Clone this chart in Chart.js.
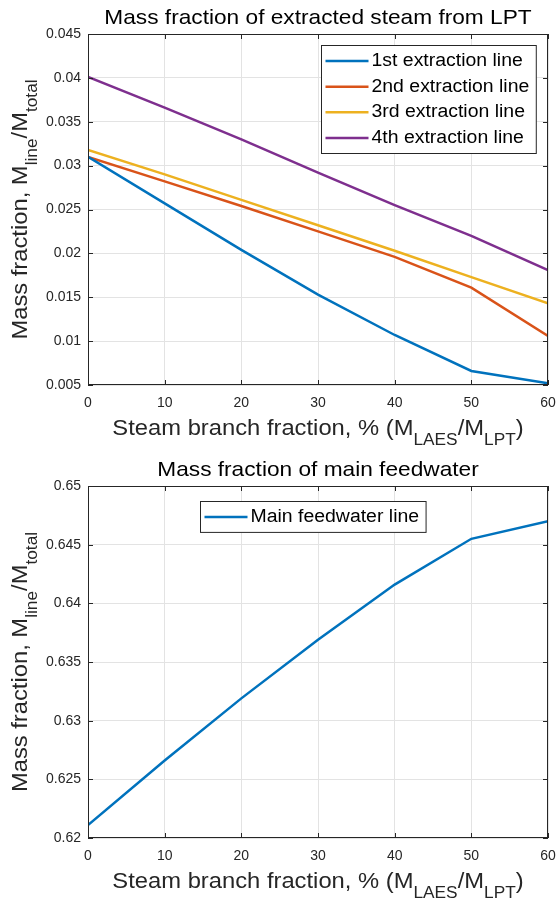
<!DOCTYPE html>
<html>
<head>
<meta charset="utf-8">
<script src="https://cdn.jsdelivr.net/npm/chart.js@4.4.1/dist/chart.umd.min.js"></script>
<style>
body { margin: 0; background: #fff; }
canvas { display: block; }
</style>
</head>
<body>
<canvas id="topChart" width="557" height="450"></canvas>
<canvas id="bottomChart" width="557" height="450"></canvas>
<script>
// values
var branchFraction = [0, 10, 20, 30, 40, 50, 60];
var extraction1 = [0.0310, 0.0257, 0.0204, 0.0153, 0.0107, 0.0066, 0.0052];
var extraction2 = [0.0310, 0.0282, 0.0254, 0.0225, 0.0196, 0.0161, 0.0106];
var extraction3 = [0.0318, 0.0290, 0.0261, 0.0232, 0.0203, 0.0173, 0.0143];
var extraction4 = [0.0401, 0.0366, 0.0330, 0.0292, 0.0255, 0.0220, 0.0181];
var extractionLabels = ['1st extraction line', '2nd extraction line', '3rd extraction line', '4th extraction line'];
var feedwater = [0.6211, 0.6266, 0.6319, 0.6369, 0.6416, 0.6455, 0.6470];
var feedwaterLabel = 'Main feedwater line';

var xTicks = { min: 0, max: 60, step: 10 };
var topYTicks = { min: 0.005, max: 0.045, step: 0.005 };
var bottomYTicks = { min: 0.62, max: 0.65, step: 0.005 };

var topTitle = 'Mass fraction of extracted steam from LPT';
var bottomTitle = 'Mass fraction of main feedwater';
var xLabel = [['Steam branch fraction, % (M', 0], ['LAES', 1], ['/M', 0], ['LPT', 1], [')', 0]];
var yLabel = [['Mass fraction, M', 0], ['line', 1], ['/M', 0], ['total', 1]];

var lineColors = ['#0072BD', '#D95319', '#EDB120', '#7E2F8E'];
var FONT = "'Liberation Sans', Arial, sans-serif";
var SX = 1.08; // reference text is a little wider than plain Arial

function toPoints(arr) {
    return branchFraction.map(function (x, i) { return { x: x, y: arr[i] }; });
}

function lineSet(label, arr, color) {
    return {
        label: label,
        data: toPoints(arr),
        borderColor: color,
        backgroundColor: color,
        borderWidth: 2.5,
        pointRadius: 0,
        tension: 0,
        fill: false
    };
}

function richWidth(ctx, parts) {
    var w = 0;
    parts.forEach(function (p) {
        ctx.font = (p[1] ? 16 : 22) + 'px ' + FONT;
        w += ctx.measureText(p[0]).width;
    });
    return w;
}

function drawRich(ctx, parts, x, y, angle) {
    var w = richWidth(ctx, parts);
    ctx.save();
    ctx.translate(x, y);
    ctx.rotate(angle);
    ctx.scale(SX, 1);
    ctx.fillStyle = '#262626';
    ctx.textAlign = 'left';
    ctx.textBaseline = 'alphabetic';
    var cx = -w / 2;
    parts.forEach(function (p) {
        ctx.font = (p[1] ? 16 : 22) + 'px ' + FONT;
        ctx.fillText(p[0], cx, p[1] ? 10 : 0);
        cx += ctx.measureText(p[0]).width;
    });
    ctx.restore();
}

// title, axis labels with subscripts, box with inward ticks, framed legend
var matlabLook = {
    id: 'matlabLook',
    afterDraw: function (chart, args, opts) {
        var ctx = chart.ctx, a = chart.chartArea;
        var xs = chart.scales.x, ys = chart.scales.y;
        var cx = (a.left + a.right) / 2, cy = (a.top + a.bottom) / 2;

        ctx.save();
        ctx.font = '21px ' + FONT;
        ctx.fillStyle = '#000';
        ctx.textAlign = 'center';
        ctx.translate(cx, a.top - 10);
        ctx.scale(SX, 1);
        ctx.fillText(opts.title, 0, 0);
        ctx.restore();

        drawRich(ctx, xLabel, cx, a.bottom + 50, 0);
        drawRich(ctx, yLabel, 27, cy, -Math.PI / 2);

        ctx.save();
        ctx.strokeStyle = '#262626';
        ctx.lineWidth = 1;
        ctx.strokeRect(a.left + 0.5, a.top + 0.5, a.width - 1, a.height - 1);
        ctx.beginPath();
        xs.ticks.forEach(function (t) {
            var px = Math.round(xs.getPixelForValue(t.value)) + 0.5;
            ctx.moveTo(px, a.bottom); ctx.lineTo(px, a.bottom - 5);
            ctx.moveTo(px, a.top); ctx.lineTo(px, a.top + 5);
        });
        ys.ticks.forEach(function (t) {
            var py = Math.round(ys.getPixelForValue(t.value)) + 0.5;
            ctx.moveTo(a.left, py); ctx.lineTo(a.left + 5, py);
            ctx.moveTo(a.right, py); ctx.lineTo(a.right - 5, py);
        });
        ctx.stroke();

        var sets = chart.data.datasets;
        ctx.font = '18px ' + FONT;
        var tw = 0;
        sets.forEach(function (d) { tw = Math.max(tw, ctx.measureText(d.label).width * SX); });
        var rowH = 25.7;
        var bw = 50 + tw + 7, bh = rowH * sets.length + 5.2;
        var bx = opts.legendAlign == 'right' ? a.right - opts.legendDx - bw : cx + opts.legendDx - bw / 2;
        var by = a.top + opts.legendDy;
        bx = Math.round(bx) + 0.5;
        by = Math.round(by) + 0.5;
        ctx.fillStyle = '#fff';
        ctx.fillRect(bx, by, bw, bh);
        ctx.strokeStyle = '#262626';
        ctx.strokeRect(bx, by, bw, bh);
        sets.forEach(function (d, i) {
            var y = by + 2.6 + rowH * (i + 0.5);
            ctx.beginPath();
            ctx.strokeStyle = d.borderColor;
            ctx.lineWidth = 2.5;
            ctx.moveTo(bx + 4, y); ctx.lineTo(bx + 47, y);
            ctx.stroke();
            ctx.save();
            ctx.translate(bx + 50, y);
            ctx.scale(SX, 1);
            ctx.fillStyle = '#000';
            ctx.textBaseline = 'middle';
            ctx.fillText(d.label, 0, 0);
            ctx.restore();
        });
        ctx.restore();
    }
};

function makeOptions(yt, padTop, xHeight, deco) {
    return {
        responsive: false,
        animation: false,
        devicePixelRatio: 1,
        layout: { padding: { top: padTop, right: 9, left: 0, bottom: 0 } },
        scales: {
            x: {
                type: 'linear',
                min: xTicks.min, max: xTicks.max,
                ticks: { stepSize: xTicks.step, color: '#262626', font: { family: FONT, size: 14 }, padding: 10, maxRotation: 0 },
                grid: { color: '#e3e3e3', drawTicks: false },
                border: { display: false },
                afterFit: function (s) { s.height = xHeight; s.paddingRight = 0; s.paddingLeft = 0; }
            },
            y: {
                min: yt.min, max: yt.max,
                ticks: {
                    stepSize: yt.step, color: '#262626', font: { family: FONT, size: 14 }, padding: 7,
                    callback: function (v) { return String(+v.toFixed(3)); }
                },
                grid: { color: '#e3e3e3', drawTicks: false },
                border: { display: false },
                afterFit: function (s) { s.width = 88; s.paddingTop = 0; s.paddingBottom = 0; }
            }
        },
        plugins: {
            legend: { display: false },
            title: { display: false },
            tooltip: { enabled: false },
            matlabLook: deco
        }
    };
}

var topChart = new Chart(document.getElementById('topChart').getContext('2d'), {
    type: 'line',
    data: {
        datasets: [
            lineSet(extractionLabels[0], extraction1, lineColors[0]),
            lineSet(extractionLabels[1], extraction2, lineColors[1]),
            lineSet(extractionLabels[2], extraction3, lineColors[2]),
            lineSet(extractionLabels[3], extraction4, lineColors[3])
        ]
    },
    options: makeOptions(topYTicks, 34, 65, { title: topTitle, legendAlign: 'right', legendDx: 12, legendDy: 11 }),
    plugins: [matlabLook]
});

var bottomChart = new Chart(document.getElementById('bottomChart').getContext('2d'), {
    type: 'line',
    data: {
        datasets: [lineSet(feedwaterLabel, feedwater, lineColors[0])]
    },
    options: makeOptions(bottomYTicks, 36, 62, { title: bottomTitle, legendAlign: 'center', legendDx: -5, legendDy: 15 }),
    plugins: [matlabLook]
});
</script>
</body>
</html>
